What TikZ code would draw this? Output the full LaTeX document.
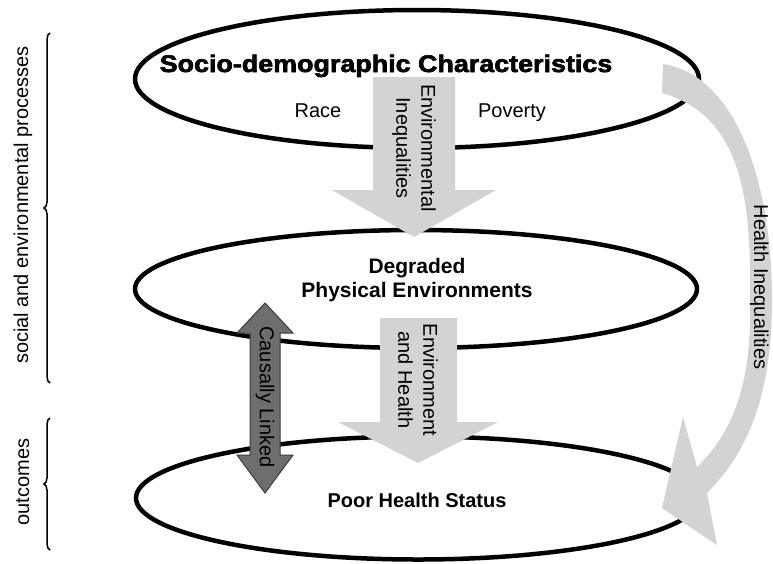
\documentclass[tikz,border=0pt]{standalone}
\usepackage{fontspec}
\setmainfont{Liberation Sans}
\newfontfamily\heavyfont[FakeBold=2.6,FakeStretch=1.12]{Liberation Sans}
\usetikzlibrary{shapes.geometric}
\usetikzlibrary{decorations.pathreplacing}

\begin{document}
\begin{tikzpicture}[x=1pt,y=-1pt]
\definecolor{mycolorD3D3D3}{RGB}{211,211,211}
\definecolor{mycolor6E6E6E}{RGB}{110,110,110}
\definecolor{mycolor3C3C3C}{RGB}{60,60,60}
\tikzset{
  ring/.style={draw=black,line width=4.5,ellipse,inner sep=0pt},
  txt/.style={inner sep=0pt,font=\fontsize{20}{25}\selectfont},
  boldtxt/.style={inner sep=0pt,font=\fontsize{21}{24}\selectfont\bfseries},
  blockarrow/.style={fill=mycolorD3D3D3},
  linkarrow/.style={fill=mycolor6E6E6E,draw=mycolor3C3C3C,line width=1},
  bracket/.style={decorate,decoration={brace,amplitude=6},line width=1.5}
}
\useasboundingbox (0,0) rectangle (773,563);
\fill[white] (0,0) rectangle (773,563);
\begin{scope}
\node[ring,minimum width=564,minimum height=138] (socio) at (417,79) {};
\node[ring,minimum width=562,minimum height=118] (physenv) at (416,289) {};
\node[ring,minimum width=564,minimum height=123] (health) at (418,498) {};
\end{scope}
\begin{scope}
\path[blockarrow] (373,77) -- (455,77) -- (455,190) -- (496,190) -- (414,237) -- (332,190) -- (373,190) -- cycle;
\path[blockarrow] (380,318) -- (457,318) -- (457,422) -- (498,422) -- (418,463) -- (338,422) -- (380,422) -- cycle;
\path[linkarrow] (265,303) -- (293,333) -- (280,333) -- (280,455) -- (293,455) -- (265,493) -- (237,455) -- (250,455) -- (250,333) -- (237,333) -- cycle;
\path[blockarrow] (663,64) .. controls (735,75) and (772,180) .. (772,300) .. controls (772,400) and (745,455) .. (707,493) -- (717,545) -- (662,508) -- (683,417) -- (697,467) .. controls (735,430) and (752,380) .. (750,300) .. controls (752,190) and (738,115) .. (662,93) -- cycle;
\end{scope}
\begin{scope}
\node[anchor=base,inner sep=0pt] (sociotitle) at (386,72) {\fontsize{24}{28}\heavyfont\bfseries Socio-demographic Characteristics};
\node[txt,anchor=base] (race) at (318,117) {Race};
\node[txt,anchor=base] (poverty) at (512,117) {Poverty};
\node[boldtxt,align=center] (degraded) at (417,280) {Degraded\\Physical Environments};
\node[boldtxt,font=\fontsize{20}{24}\selectfont\bfseries,anchor=base] (poorhealth) at (417,507) {Poor Health Status};
\node[txt,rotate=-90,align=center] (envineq) at (414,148) {Environmental\\Inequalities};
\node[txt,rotate=-90,align=center] (envhealth) at (418,380) {Environment\\and Health};
\node[txt,rotate=-90] (causal) at (265,397) {Causally Linked};
\node[txt,rotate=-90,anchor=base] (healthineq) at (754,287) {Health Inequalities};
\end{scope}
\begin{scope}
\node[txt,rotate=90,anchor=base] (social) at (28,205) {social and environmental processes};
\node[txt,rotate=90,anchor=base] (outcomes) at (29,482) {outcomes};
\draw[bracket] (50,383) -- (50,33);
\draw[bracket] (50,550) -- (50,418);
\end{scope}
\end{tikzpicture}
\end{document}
